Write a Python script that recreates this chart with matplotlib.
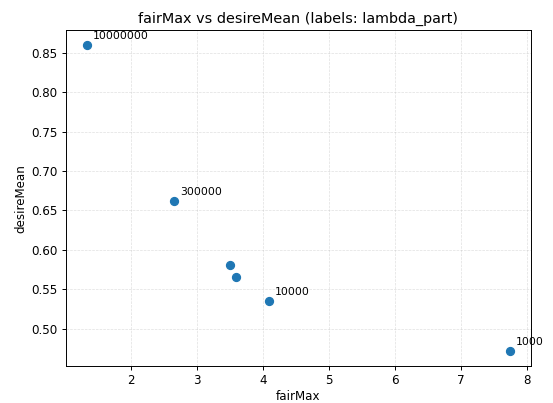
import matplotlib.pyplot as plt

fair_max = [1.335, 2.65, 3.50, 3.59, 4.09, 7.74]
desire_mean = [0.8596, 0.662, 0.580, 0.566, 0.535, 0.4714]
labels = ["10000000", "300000", "", "", "10000", "1000"]

fig, ax = plt.subplots(figsize=(5.53, 4.03), dpi=100)
ax.scatter(fair_max, desire_mean, s=32, color="#1f77b4", zorder=3)
for x, y, lab in zip(fair_max, desire_mean, labels):
    if lab:
        ax.annotate(lab, (x, y), textcoords="offset points", xytext=(4.3, 4.3), fontsize=7.8)

ax.set_title("fairMax vs desireMean (labels: lambda_part)", fontsize=10.4, pad=5)
ax.set_xlabel("fairMax", fontsize=8.6, labelpad=2)
ax.set_ylabel("desireMean", fontsize=8.6, labelpad=3)
ax.tick_params(labelsize=8.6, length=3, pad=2.8, width=0.7)
for s in ax.spines.values():
    s.set_linewidth(0.7)
ax.grid(True, linestyle="--", linewidth=0.5, alpha=0.4)
fig.subplots_adjust(left=0.119, right=0.960, top=0.9256, bottom=0.091)
fig.savefig("out.png")
